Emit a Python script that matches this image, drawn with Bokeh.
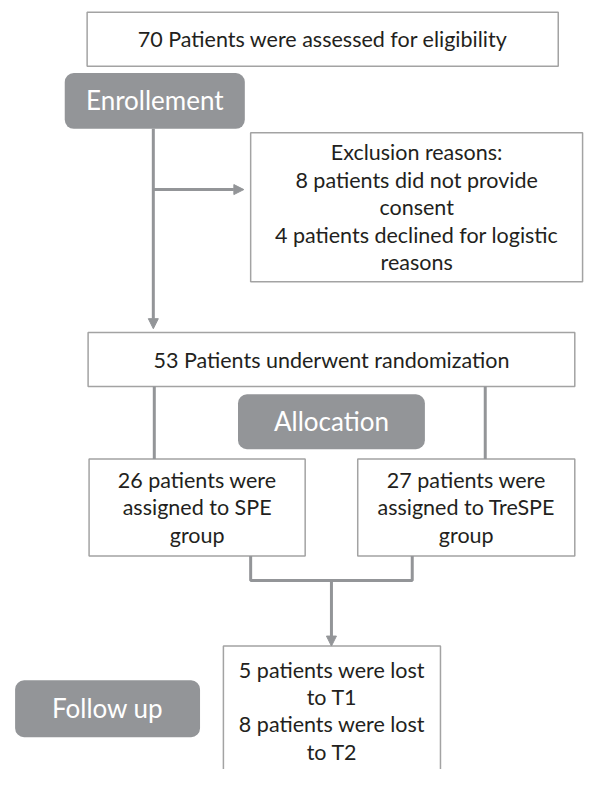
from bokeh.plotting import figure
from bokeh.models import Range1d, Arrow, NormalHead
from bokeh.core.properties import value
from bokeh.embed import file_html
from bokeh.resources import INLINE

# ---- content (texts of the flowchart) ----
top_lines = ["70 Patients were assessed for eligibility"]
exclusion_lines = ["Exclusion reasons:", "8 patients did not provide", "consent",
                   "4 patients declined for logistic", "reasons"]
random_lines = ["53 Patients underwent randomization"]
spe_lines = ["26 patients were", "assigned to SPE", "group"]
trespe_lines = ["27 patients were", "assigned to TreSPE", "group"]
lost_lines = ["5 patients were lost", "to T1", "8 patients were lost", "to T2"]
stage_labels = ["Enrollement", "Allocation", "Follow up"]

# ---- layout (reference pixel space: left, right, top, bottom) ----
boxes = {
    "top": (89, 573, 12, 67),
    "excl": (257, 598, 135, 287),
    "rand": (90, 590, 339, 394),
    "spe": (91, 313, 468, 567),
    "tre": (367, 590, 468, 567),
    "lost": (229, 452, 659, 820),
}
stage_boxes = [(66, 251, 74, 131), (244, 436, 402, 458), (15, 205, 694, 752)]
LINE_H = 28

FONT = "Lato"
BODY_SIZE = "21.5px"
STAGE_SIZE = "26px"
BOX_LINE = "#a3a3a3"
GRAY = "#939598"

p = figure(width=585, height=769, x_range=Range1d(0, 601), y_range=Range1d(785, 0),
           output_backend="svg", toolbar_location=None, min_border=0)
p.axis.visible = False
p.grid.visible = False
p.outline_line_color = None
p.background_fill_color = "white"

# white boxes
for k, (l, r, t, b) in boxes.items():
    p.quad(left=[l], right=[r], top=[t], bottom=[b], fill_color="white",
           line_color=BOX_LINE, line_width=1.5)

# stage boxes
for (l, r, t, b) in stage_boxes:
    p.quad(left=[l], right=[r], top=[t], bottom=[b], fill_color=GRAY,
           line_color=None, border_radius=9)


def put_lines(lines, cx, cy, size=BODY_SIZE, color="#231f20"):
    n = len(lines)
    ys = [cy + (i - (n - 1) / 2) * LINE_H for i in range(n)]
    p.text(x=[cx] * n, y=ys, text=lines, text_align="center", text_baseline="middle",
           text_font=value(FONT), text_font_size=size, text_color=color)


def center(k):
    l, r, t, b = boxes[k]
    return (l + r) / 2, (t + b) / 2

put_lines(top_lines, *center("top"))
put_lines(exclusion_lines, *center("excl"))
put_lines(random_lines, *center("rand"))
put_lines(spe_lines, *center("spe"))
put_lines(trespe_lines, *center("tre"))
l, r, t, b = boxes["lost"]
put_lines(lost_lines, (l + r) / 2, 683 + 1.5 * LINE_H)

for lab, (l, r, t, b) in zip(stage_labels, stage_boxes):
    put_lines([lab], (l + r) / 2, (t + b) / 2 - 1, size=STAGE_SIZE, color="white")

# connectors
LW = 3
p.line([158, 158], [394, 468], line_color=GRAY, line_width=LW)
p.line([498, 498], [394, 468], line_color=GRAY, line_width=LW)
p.line([257, 257, 423, 423], [567, 592, 592, 567], line_color=GRAY, line_width=LW)


def arrow(x0, y0, x1, y1):
    p.add_layout(Arrow(end=NormalHead(size=10, fill_color=GRAY, line_color=GRAY),
                       x_start=x0, y_start=y0, x_end=x1, y_end=y1,
                       line_color=GRAY, line_width=LW))

arrow(157, 131, 157, 335)
arrow(157, 193, 250, 193)
arrow(340, 592, 340, 659)

open("out.html", "w").write(file_html(p, INLINE))
